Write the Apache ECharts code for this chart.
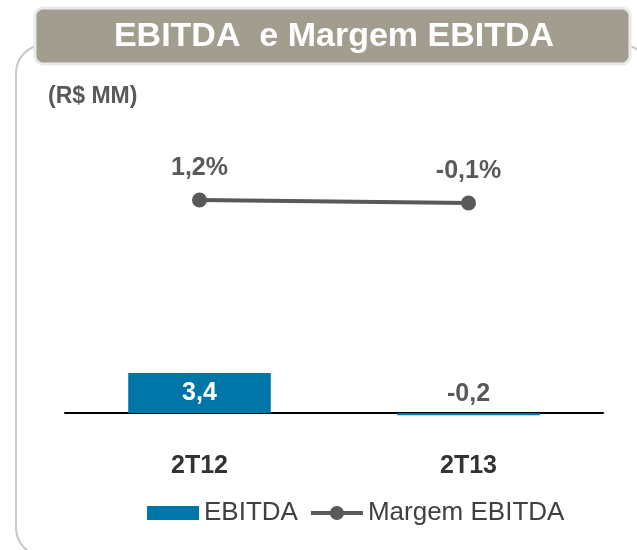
<!DOCTYPE html>
<html>
<head>
<meta charset="utf-8">
<script src="https://cdn.jsdelivr.net/npm/echarts@6/dist/echarts.min.js"></script>
<style>
  html, body { margin: 0; padding: 0; background: #fff; }
  #chart { width: 637px; height: 550px; }
</style>
</head>
<body>
<div id="chart"></div>
<script>
// data
const categories = ["2T12", "2T13"];
const ebitda = [3.4, -0.2];
const margem = [1.2, -0.1];

const fmt = (v, suffix) => v.toFixed(1).replace(".", ",") + (suffix || "");
const FONT = "'Liberation Sans', Arial, sans-serif";
// legend icon for the line: thick bar with a dot in the middle
const lineIcon = "path://M0,5H52V9H0Z M19,7a7,7 0 1,1 14,0a7,7 0 1,1 -14,0Z";

let myChart = echarts.init(document.getElementById("chart"));
myChart.setOption({
  animation: false,
  textStyle: { fontFamily: FONT },
  graphic: [
    {
      type: "rect",
      shape: { x: 16, y: 45, width: 634, height: 511, r: 28 },
      style: { fill: "none", stroke: "#c8c8c8", lineWidth: 2 },
      z: 0
    },
    {
      type: "rect",
      shape: { x: 35, y: 8, width: 595, height: 56, r: 8 },
      style: { fill: "#a29d8e", stroke: "#e9e9e6", lineWidth: 3 },
      z: 1
    },
    {
      type: "text",
      style: {
        text: "EBITDA  e Margem EBITDA",
        x: 334, y: 37,
        textAlign: "center",
        textVerticalAlign: "middle",
        font: "bold 34px " + FONT,
        fill: "#ffffff"
      },
      z: 2
    },
    {
      type: "text",
      style: {
        text: "(R$ MM)",
        x: 48, y: 97,
        textVerticalAlign: "middle",
        font: "bold 23px " + FONT,
        fill: "#595959"
      },
      z: 2
    }
  ],
  legend: {
    left: 142,
    top: 495,
    itemWidth: 52,
    itemHeight: 14,
    itemGap: 13,
    textStyle: { fontSize: 26, color: "#404040", fontFamily: FONT },
    data: [
      { name: "EBITDA", icon: "rect" },
      { name: "Margem EBITDA", icon: lineIcon }
    ]
  },
  grid: { left: 65, right: 34, top: 100, bottom: 117 },
  xAxis: {
    type: "category",
    data: categories,
    axisLine: { onZero: true, onZeroAxisIndex: 0, lineStyle: { color: "#000", width: 2 } },
    axisTick: { show: false },
    axisLabel: { fontSize: 25, fontWeight: "bold", color: "#333", margin: 21 }
  },
  yAxis: [
    { type: "value", min: -1.7, max: 26.6, show: false, splitLine: { show: false } },
    { type: "value", min: -99.75, max: 44.55, show: false, splitLine: { show: false } }
  ],
  series: [
    {
      name: "EBITDA",
      type: "bar",
      barWidth: "53%",
      itemStyle: { color: "#0075a8" },
      label: {
        show: true,
        fontSize: 25,
        fontWeight: "bold",
        formatter: p => fmt(p.value)
      },
      data: [
        { value: ebitda[0], label: { position: "inside", color: "#fff" } },
        { value: ebitda[1], label: { position: "top", color: "#595959", distance: 6 } }
      ]
    },
    {
      name: "Margem EBITDA",
      type: "line",
      yAxisIndex: 1,
      symbol: "circle",
      symbolSize: 15,
      itemStyle: { color: "#595959" },
      lineStyle: { color: "#595959", width: 4 },
      label: {
        show: true,
        position: "top",
        distance: 12,
        fontSize: 25,
        fontWeight: "bold",
        color: "#595959",
        formatter: p => fmt(p.value, "%")
      },
      data: margem
    }
  ]
});
</script>
</body>
</html>
